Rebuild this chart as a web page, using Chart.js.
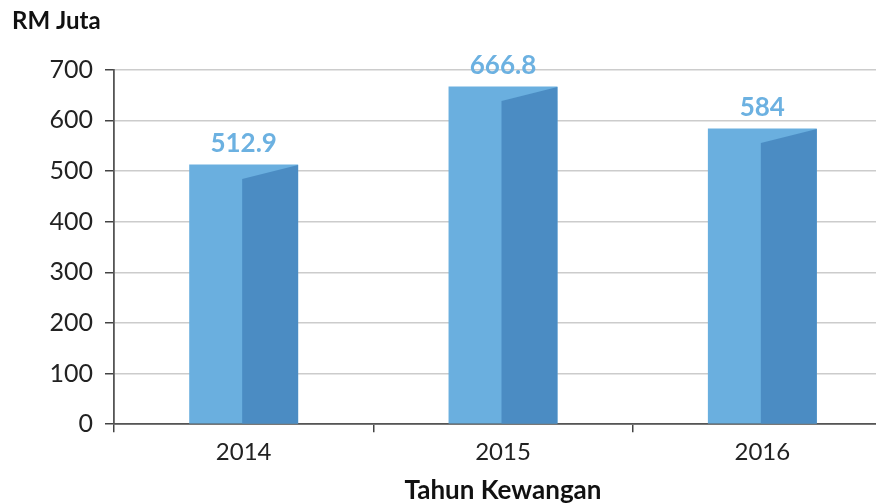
<!DOCTYPE html>
<html>
<head>
<meta charset="utf-8">
<script src="https://cdn.jsdelivr.net/npm/chart.js@4"></script>
<style>
  html, body { margin: 0; padding: 0; background: #fff; overflow: hidden; }
  #wrap { width: 900px; height: 504px; }
</style>
</head>
<body>
<div id="wrap"><canvas id="chart" width="900" height="504"></canvas></div>
<script>
const years = ["2014", "2015", "2016"];
const revenue = [512.9, 666.8, 584];
const valueLabels = ["512.9", "666.8", "584"];

const lightBlue = "#6aafdf";
const darkBlue = "#4b8cc3";
const fontFamily = "Lato, 'Open Sans', sans-serif";

// right half of each bar gets a darker face with a slanted top
const facePlugin = {
  id: "face",
  afterDatasetsDraw(chart) {
    const ctx = chart.ctx;
    const meta = chart.getDatasetMeta(0);
    ctx.save();
    meta.data.forEach((bar, i) => {
      const right = bar.x + bar.width / 2;
      const mid = bar.x - 1.5;
      ctx.fillStyle = darkBlue;
      ctx.beginPath();
      ctx.moveTo(mid, bar.base);
      ctx.lineTo(mid, bar.y + 14.5);
      ctx.lineTo(right, bar.y + 0.5);
      ctx.lineTo(right, bar.base);
      ctx.closePath();
      ctx.fill();

      ctx.fillStyle = "#6cb1e1";
      ctx.font = "bold 26px " + fontFamily;
      ctx.textAlign = "center";
      ctx.textBaseline = "middle";
      ctx.fillText(valueLabels[i], bar.x, bar.y - 21);
    });
    ctx.restore();
  },
};

new Chart(document.getElementById("chart"), {
  type: "bar",
  data: {
    labels: years,
    datasets: [
      {
        data: revenue,
        backgroundColor: lightBlue,
        categoryPercentage: 1,
        barPercentage: 0.42,
      },
    ],
  },
  plugins: [facePlugin],
  options: {
    responsive: false,
    animation: false,
    layout: { padding: { left: 12, right: 8, top: 0, bottom: 0 } },
    plugins: {
      legend: { display: false },
      tooltip: { enabled: false },
      title: {
        display: true,
        text: "RM Juta",
        align: "start",
        color: "#111",
        font: { family: fontFamily, size: 24, weight: "bold", lineHeight: 1.2 },
        padding: { top: 7, bottom: 34 },
      },
    },
    scales: {
      x: {
        grid: {
          offset: true,
          drawOnChartArea: false,
          drawTicks: true,
          tickLength: 8,
          color: "#444",
          lineWidth: 1.5,
        },
        border: { color: "#555", width: 1.8 },
        ticks: {
          color: "#222",
          padding: 6,
          font: { family: fontFamily, size: 24, lineHeight: 1.2 },
        },
        title: {
          display: true,
          text: "Tahun Kewangan",
          color: "#111",
          font: { family: fontFamily, size: 26, weight: "bold", lineHeight: 1 },
          padding: { top: 5, bottom: 0 },
        },
      },
      y: {
        min: 0,
        max: 700,
        afterFit(scale) {
          scale.width = 102;
        },
        grid: {
          color: "#cccccc",
          lineWidth: 1.5,
          tickLength: 9,
          tickColor: "#444",
        },
        border: { color: "#555", width: 1.8 },
        ticks: {
          stepSize: 100,
          color: "#222",
          padding: 12,
          font: { family: fontFamily, size: 25 },
        },
      },
    },
  },
});
</script>
</body>
</html>
